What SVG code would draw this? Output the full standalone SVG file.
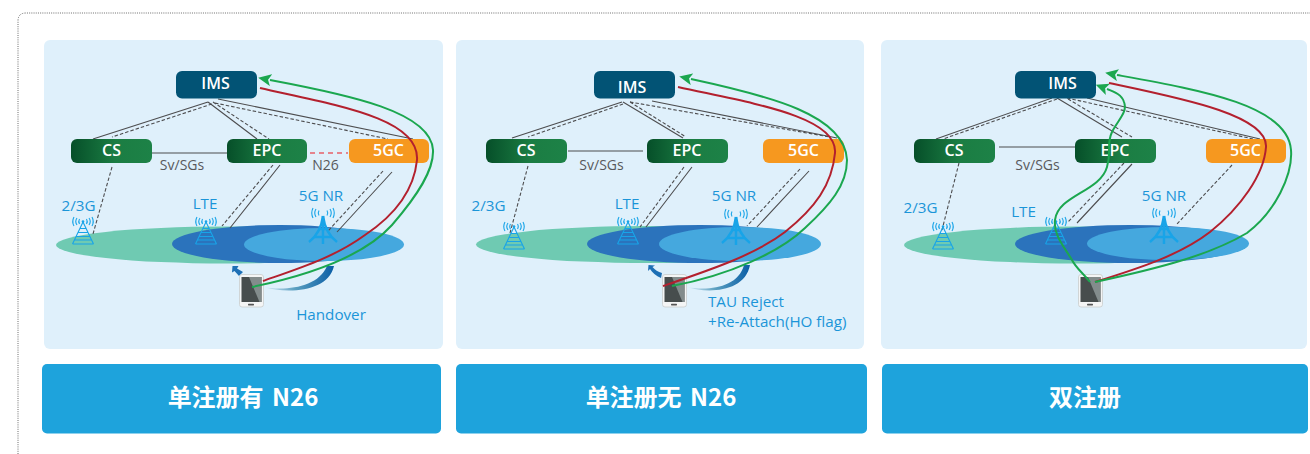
<svg xmlns="http://www.w3.org/2000/svg" width="1310" height="454" viewBox="0 0 1310 454">
<style>
text{font-family:"Open Sans","Noto Sans","Noto Sans CJK SC",sans-serif}
.panel{fill:#dff0fb}
.btn{fill:#1ea3dc}
.btxt{font-family:"Noto Sans CJK SC","Noto Sans",sans-serif;font-size:24px;font-weight:700;fill:#fff;text-anchor:middle;word-spacing:3px}
.ims{fill:#025375}
.grn{fill:url(#gn)}
.org{fill:#f6981f}
.ntxt{font-size:16px;font-weight:600;fill:#fff;text-anchor:middle}
.lbl{font-size:15.200px;fill:#1b95d8;text-anchor:middle}
.glbl{font-size:14px;fill:#58595b;text-anchor:middle}
.s{fill:none;stroke:#4d4d4f;stroke-width:1.1}
.d{fill:none;stroke:#4d4d4f;stroke-width:1.1;stroke-dasharray:3.5 2}
.n26{fill:none;stroke:#e8606a;stroke-width:1.3;stroke-dasharray:5 4}
.r{fill:none;stroke:#b3202e;stroke-width:2}
.g{fill:none;stroke:#1ba74f;stroke-width:2}
.ga{marker-end:url(#ah)}
.sw{fill:url(#swg)}
.ua{fill:#1d6fb5}
.e1{fill:#6fcab2}.e2{fill:#2b73bc}.e3{fill:#45a8de}
.tw{fill:none;stroke:#18a4e8;stroke-width:1.100}
</style>
<defs>
<linearGradient id="gn" x1="0" x2="1" y1="0" y2="0"><stop offset="0" stop-color="#064f29"/><stop offset=".55" stop-color="#1b7d43"/><stop offset="1" stop-color="#1d8247"/></linearGradient>
<linearGradient id="swg" x1="0" x2="1" y1="0" y2="0"><stop offset="0" stop-color="#dff0fb"/><stop offset=".45" stop-color="#5a9fc0"/><stop offset="1" stop-color="#0a5ea6"/></linearGradient>
<marker id="ah" markerUnits="userSpaceOnUse" markerWidth="14" markerHeight="12" refX="1" refY="6" orient="auto"><path d="M0,6 L13,0 L10,6 L13,12 Z" fill="#1ba74f" transform="rotate(180 6.500 6)"/></marker>
<symbol id="t3" overflow="visible" viewBox="-14 -8 28 34" width="28" height="34">
<path class="tw" d="M0,0 L-10.500,22 M0,0 L10.500,22 M-10.500,22 H10.500 M-8.800,18 H8.800 M-7,14.500 H7 M-5,10.500 H5 M-3,6.500 H3"/>
<path class="tw" d="M-3.500,-3 Q-5,-.5 -3.500,2 M3.500,-3 Q5,-.5 3.500,2 M-6,-4 Q-8.500,-.5 -6,3 M6,-4 Q8.500,-.5 6,3 M-9,-5 Q-11.500,-.5 -9,4 M9,-5 Q11.500,-.5 9,4"/>
<circle cy="-.5" r="1.300" fill="#18a4e8"/>
</symbol>
<symbol id="t5" overflow="visible" viewBox="-16 -8 32 38" width="32" height="38">
<path d="M0,1 C-1.500,12 -6,21 -14,27" fill="none" stroke="#18a4e8" stroke-width="2.400"/>
<path d="M0,1 C1.500,12 6,21 14,27" fill="none" stroke="#18a4e8" stroke-width="2.400"/>
<path fill="none" stroke="#18a4e8" stroke-width="2.400" d="M0,1 V29 M-8,22 H8 M-5,14 H5"/>
<path class="tw" d="M-4,-4.500 Q-5.500,-2 -4,.5 M4,-4.500 Q5.500,-2 4,.5 M-7,-6 Q-9.500,-2 -7,2 M7,-6 Q9.500,-2 7,2 M-10,-7 Q-12.500,-2 -10,3 M10,-7 Q12.500,-2 10,3"/>
</symbol>
<symbol id="ph" overflow="visible" viewBox="0 0 25 33" width="25" height="33">
<rect x=".5" y=".5" width="24" height="32.500" rx="2.500" fill="#f4f5f5" stroke="#c9cdcd" stroke-width=".8"/>
<rect x="2.500" y="3" width="20" height="25" fill="#474d4d"/>
<path d="M10,3 H22.500 V28 H20.500 Z" fill="#838c8c"/>
<rect x="9" y="29.800" width="6" height="1.600" rx=".6" fill="#555"/>
</symbol>
</defs>

<path d="M18,454 V21 Q18,13 26,13 H1310" fill="none" stroke="#6d6d6d" stroke-width="1" stroke-dasharray="1 1.200"/>

<g id="panels">
<rect class="panel" x="44" y="40" width="399" height="309" rx="6"/>
<rect class="panel" x="456" y="40" width="408" height="309" rx="6"/>
<rect class="panel" x="881" y="40" width="426" height="309" rx="6"/>
</g>

<g id="coverage">
<ellipse class="e1" cx="226" cy="245" rx="170" ry="18.500"/><ellipse class="e2" cx="280" cy="244" rx="108" ry="19"/><ellipse class="e3" cx="324" cy="244.500" rx="80" ry="16.500"/>
<ellipse class="e1" cx="648" cy="244.500" rx="172" ry="18.500"/><ellipse class="e2" cx="700" cy="244" rx="113" ry="19"/><ellipse class="e3" cx="740" cy="244" rx="81" ry="17"/>
<ellipse class="e1" cx="1076" cy="245" rx="172" ry="18.500"/><ellipse class="e2" cx="1130" cy="244" rx="115" ry="19"/><ellipse class="e3" cx="1168" cy="243.500" rx="81" ry="16.500"/>
</g>

<g id="connectors">
<path class="s" d="M208,102 L93,139 M208,102 L257,139 M218,99 L413,139 M152,153 H227"/>
<path class="d" d="M212,104 L112,137 M213,102 L269,139 M215,103 L388,139 M112,167 L93,234 M273,165 L222,226 M383,171 L328,231"/>
<path class="s" d="M280,165 L230,228 M392,172 L337,232"/>
<path class="n26" d="M310,153 H348"/>

<path class="s" d="M622,102 L512,138 M623,102 L683,138 M652,101 L837,138 M568,151 H643 M692,167 L646,227 M809,171 L757,227"/>
<path class="d" d="M623,104 L528,137 M630,102 L686,137 M630,102 L830,137 M528,166 L510,233 M684,167 L640,227 M800,169 L747,226"/>

<path class="s" d="M1052,98 L936,139 M1057,98 L1122,137 M1087,98 L1260,139 M999,147 H1075 M1132,164 L1077,223"/>
<path class="d" d="M1057,99 L943,139 M1068,99 L1132,137 M1067,98 L1253,139 M959,163 L942,230 M1124,163 L1068,222 M1232,165 L1176,225"/>
</g>

<g id="towers">
<use href="#t3" x="69" y="214"/><use href="#t3" x="192" y="214"/><use href="#t5" x="307" y="207"/>
<use href="#t3" x="500" y="219"/><use href="#t3" x="614" y="214"/><use href="#t5" x="720" y="208"/>
<use href="#t3" x="929" y="219"/><use href="#t3" x="1042" y="214"/><use href="#t5" x="1148" y="207"/>
</g>

<g id="node-p1-ims"><rect class="ims" x="176" y="71" width="81" height="27.500" rx="6"/><text class="ntxt" x="215.500" y="89">IMS</text></g>
<g id="node-p1-cs"><rect class="grn" x="71" y="139" width="81" height="24" rx="6"/><text class="ntxt" x="111.500" y="156">CS</text></g>
<g id="node-p1-epc"><rect class="grn" x="227" y="139" width="80" height="24" rx="6"/><text class="ntxt" x="267" y="156">EPC</text></g>
<g id="node-p1-5gc"><rect class="org" x="349" y="139" width="80" height="24" rx="6"/><text class="ntxt" x="388.500" y="156">5GC</text></g>

<g id="node-p2-ims"><rect class="ims" x="594" y="71" width="81" height="27.500" rx="6"/><text class="ntxt" x="632" y="93">IMS</text></g>
<g id="node-p2-cs"><rect class="grn" x="486" y="139" width="81" height="24" rx="6"/><text class="ntxt" x="526" y="156">CS</text></g>
<g id="node-p2-epc"><rect class="grn" x="647" y="139" width="81" height="24" rx="6"/><text class="ntxt" x="687" y="156">EPC</text></g>
<g id="node-p2-5gc"><rect class="org" x="763" y="139" width="81" height="24" rx="6"/><text class="ntxt" x="803.500" y="156">5GC</text></g>

<g id="node-p3-ims"><rect class="ims" x="1015" y="71" width="81" height="27.500" rx="6"/><text class="ntxt" x="1062.500" y="89">IMS</text></g>
<g id="node-p3-cs"><rect class="grn" x="914" y="139" width="81" height="24" rx="6"/><text class="ntxt" x="954" y="156">CS</text></g>
<g id="node-p3-epc"><rect class="grn" x="1075" y="139" width="81" height="24" rx="6"/><text class="ntxt" x="1115" y="156">EPC</text></g>
<g id="node-p3-5gc"><rect class="org" x="1206" y="139" width="80" height="24" rx="6"/><text class="ntxt" x="1245.500" y="156">5GC</text></g>

<g id="phones">
<path class="sw" d="M263,287 C285,291 318,288 327,266 L334,266 C328,292 288,294 263,287 Z"/>
<path class="ua" d="M243,272 L239,276 L234.500,271 L232,272.500 L232.500,266 L238.500,266 L237,268.500 Z"/>
<use href="#ph" x="239" y="274"/>
<path class="sw" d="M687,287 C708,291 738,288 744,265 L750,265 C745,292 708,294 687,287 Z"/>
<path class="ua" d="M662,273 L661,278 C656,276 652,272 650,269 L648,271 L648.500,265 L655,265.500 L652.500,267 C655,270 658,272 662,273 Z"/>
<use href="#ph" x="662" y="274"/>
<use href="#ph" x="1078" y="274"/>
</g>

<g id="flows">
<path class="r" d="M260,88 C335,105 420,118 417,160 C414,190 395,215 365,235 C335,257 300,268 263,281"/>
<path class="g ga" d="M252,287 C310,275 365,255 392,225 C418,195 434,170 433,150 C431,112 350,95 270,80"/>
<path class="r" d="M678,87 C750,103 838,116 835,153 C832,185 815,208 785,232 C755,255 710,270 663,286"/>
<path class="g ga" d="M672,286 C730,275 780,252 805,228 C830,205 847,185 847,160 C845,115 770,96 691,79"/>
<path class="r" d="M1109,83 C1180,98 1268,115 1266,147 C1264,175 1240,208 1210,232 C1180,255 1140,268 1095,282"/>
<path class="g ga" d="M1095,282 C1160,268 1210,255 1247,233 C1275,212 1293,175 1291,150 C1288,105 1200,90 1117,75"/>
<path class="g ga" d="M1090,282 C1082,272 1076,268 1072,260 C1065,248 1053,235 1055,220 C1058,195 1100,192 1107,167 C1112,150 1106,145 1112,132 C1118,120 1128,112 1124,102 C1122,95 1115,92 1107,89"/>
</g>

<g id="labels">
<text class="glbl" x="182" y="170">Sv/SGs</text><text class="glbl" x="325.500" y="170">N26</text>
<text class="lbl" x="78.500" y="211">2/3G</text><text class="lbl" x="205" y="209">LTE</text><text class="lbl" x="321" y="201">5G NR</text>
<text class="lbl" x="331" y="320">Handover</text>
<text class="glbl" x="601.500" y="170">Sv/SGs</text>
<text class="lbl" x="488.500" y="211">2/3G</text><text class="lbl" x="627" y="209">LTE</text><text class="lbl" x="734" y="201">5G NR</text>
<text class="lbl" x="708" y="307" style="text-anchor:start">TAU Reject</text><text class="lbl" x="708" y="327" style="text-anchor:start">+Re-Attach(HO flag)</text>
<text class="glbl" x="1037.500" y="170">Sv/SGs</text>
<text class="lbl" x="920.500" y="213">2/3G</text><text class="lbl" x="1023.500" y="217">LTE</text><text class="lbl" x="1164" y="201">5G NR</text>
</g>

<g id="btn-1"><rect class="btn" x="42" y="364" width="399" height="69.500" rx="5"/><text class="btxt" x="243" y="406">单注册有 N26</text></g>
<g id="btn-2"><rect class="btn" x="456" y="364" width="411" height="69.500" rx="5"/><text class="btxt" x="661" y="406">单注册无 N26</text></g>
<g id="btn-3"><rect class="btn" x="882" y="364" width="426" height="69.500" rx="5"/><text class="btxt" x="1085" y="406">双注册</text></g>
</svg>
